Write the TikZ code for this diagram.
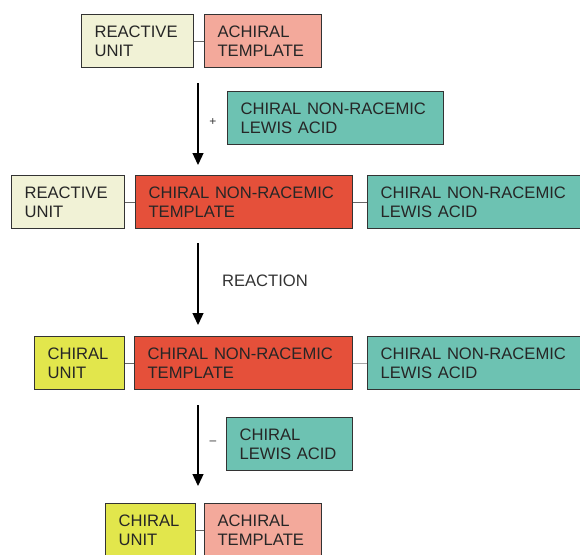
\documentclass[tikz,border=0pt]{standalone}
\usepackage{fontspec}
\setmainfont{Liberation Sans}
\usetikzlibrary{arrows.meta}
\definecolor{creamunit}{HTML}{F1F2D6}
\definecolor{chiralunit}{HTML}{E2E64C}
\definecolor{achiralpink}{HTML}{F3A99B}
\definecolor{templatered}{HTML}{E5503A}
\definecolor{lewisteal}{HTML}{6DC2B2}
\begin{document}
\begin{tikzpicture}[x=1pt, y=-1pt,
			box/.style={draw=black!80, line width=1.2pt, anchor=north west, minimum height=53pt, inner xsep=13pt, inner ysep=0pt, align=left, text=black!85, font=\fontsize{16.6}{19.5}\selectfont},
			link/.style={draw=black!60, line width=1pt},
			flow/.style={-{Triangle[width=11pt,length=12pt]}, line width=1.3pt},
			sign/.style={text=black!80, font=\fontsize{12}{14}\selectfont}]
			\useasboundingbox (0,0) rectangle (580,554);
			% start
			\node[box, fill=creamunit, text width=86pt] (ru1) at (81,14) {REACTIVE\\UNIT};
			\node[box, fill=achiralpink, text width=91pt] (at1) at (204,14) {ACHIRAL\\TEMPLATE};
			\node[box, fill=lewisteal, text width=190pt] (la1) at (227,91) {CHIRAL NON-RACEMIC\\LEWIS ACID};
			\node[sign] (plus) at (213,122) {+};
			% complex
			\node[box, fill=creamunit, text width=87pt] (ru2) at (11,175) {REACTIVE\\UNIT};
			\node[box, fill=templatered, text width=191pt] (ct2) at (135,175) {CHIRAL NON-RACEMIC\\TEMPLATE};
			\node[box, fill=lewisteal, text width=189pt] (la2) at (367,175) {CHIRAL NON-RACEMIC\\LEWIS ACID};
			\node[font=\fontsize{16.6}{19.5}\selectfont, text=black!80] (react) at (265,281) {REACTION};
			% product complex
			\node[box, fill=chiralunit, text width=64pt] (cu3) at (34,336) {CHIRAL\\UNIT};
			\node[box, fill=templatered, text width=192pt] (ct3) at (134,336) {CHIRAL NON-RACEMIC\\TEMPLATE};
			\node[box, fill=lewisteal, text width=189pt] (la3) at (367,336) {CHIRAL NON-RACEMIC\\LEWIS ACID};
			\node[box, fill=lewisteal, text width=100pt] (la4) at (226,417) {CHIRAL\\LEWIS ACID};
			\node[sign] (minus) at (213,443) {–};
			% end
			\node[box, fill=chiralunit, text width=64pt] (cu4) at (105,503) {CHIRAL\\UNIT};
			\node[box, fill=achiralpink, text width=91pt] (at4) at (204,503) {ACHIRAL\\TEMPLATE};
			\draw[link] (ru1) -- (at1);
			\draw[link] (ru2) -- (ct2);
			\draw[link] (ct2) -- (la2);
			\draw[link] (cu3) -- (ct3);
			\draw[link, draw=black!35] (ct3) -- (la3);
			\draw[link] (cu4) -- (at4);
			\coordinate (s1) at (198,83);
			\coordinate (e1) at (198,165);
			\coordinate (s2) at (198,243);
			\coordinate (e2) at (198,325);
			\coordinate (s3) at (198,405);
			\coordinate (e3) at (198,486);
			\draw[flow] (s1) -- (e1);
			\draw[flow] (s2) -- (e2);
			\draw[flow] (s3) -- (e3);
		\end{tikzpicture}
\end{document}
